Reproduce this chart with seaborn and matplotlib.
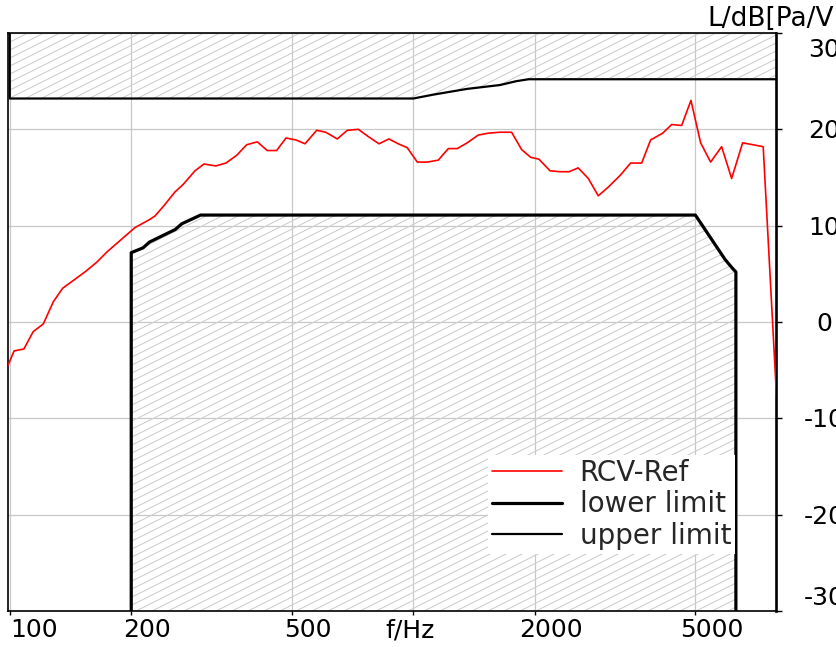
import matplotlib
matplotlib.use("Agg")
import matplotlib.pyplot as plt
import pandas as pd
import seaborn as sns
from matplotlib.collections import LineCollection
from matplotlib.lines import Line2D
from matplotlib.ticker import NullLocator

# RCV-Ref response (Hz, dB)
rcv_freq = [99, 102.5, 108.4, 114.3, 121.1, 128.2, 135.2, 153.6, 164.2, 174.4,
            204.3, 221.4, 229, 240.2, 256.7, 269.2, 287.8, 302.8, 324.2, 343.3,
            365, 386.4, 410.5, 434.6, 458.6, 483.5, 511.9, 539, 576.3, 606.6,
            648, 686, 730.5, 776.5, 822.1, 870.4, 917.6, 965.8, 1023, 1083,
            1153, 1221, 1285, 1360, 1448, 1534, 1639, 1752, 1855, 1953,
            2048, 2181, 2309, 2434, 2562, 2714, 2872, 3041, 3251, 3456,
            3680, 3873, 4149, 4368, 4623, 4875, 5152, 5454, 5807, 6149,
            6547, 7362, 8000]
rcv_db = [-4.5, -3.0, -2.8, -1.0, -0.2, 2.1, 3.5, 5.2, 6.2, 7.3,
          9.8, 10.6, 11.0, 12.0, 13.5, 14.3, 15.7, 16.4, 16.2, 16.5,
          17.3, 18.4, 18.7, 17.8, 17.8, 19.1, 18.9, 18.5, 19.9, 19.7,
          19.0, 19.9, 20.0, 19.2, 18.5, 19.0, 18.5, 18.1, 16.6, 16.6,
          16.8, 18.0, 18.0, 18.6, 19.4, 19.6, 19.7, 19.7, 17.9, 17.1,
          16.9, 15.7, 15.6, 15.6, 16.0, 14.9, 13.1, 14.0, 15.2, 16.5,
          16.5, 18.9, 19.6, 20.5, 20.4, 23.0, 18.6, 16.6, 18.2, 14.9,
          18.6, 18.2, -10.1]

# tolerance mask
low_freq = [200, 200, 214, 222, 257, 267, 297, 5000, 5920, 6200, 6300, 6300]
low_db = [-30, 7.2, 7.7, 8.3, 9.6, 10.2, 11.1, 11.1, 6.5, 5.5, 5.2, -30]
up_freq = [100, 100, 1000, 1120, 1360, 1640, 1800, 1930, 8000]
up_db = [30, 23.2, 23.2, 23.6, 24.2, 24.6, 25.0, 25.2, 25.2]

x_ticks = [100, 200, 500, 1000, 2000, 5000]
x_tick_labels = ["100", "200", "500", "f/Hz", "2000", "5000"]
y_ticks = [-30, -20, -10, 0, 10, 20, 30]
y_tick_labels = ["-30", "-20", "-10", "0", "10", "20", "30"]
legend_labels = ["RCV-Ref", "lower limit", "upper limit"]

rcv = pd.DataFrame({"f": rcv_freq, "L": rcv_db})
low = pd.DataFrame({"f": low_freq, "L": low_db})
up = pd.DataFrame({"f": up_freq, "L": up_db})

sns.set_theme(style="white")
plt.rcParams["font.family"] = ["DejaVu Sans"]

W, H = 836, 647
fig = plt.figure(figsize=(W / 100, H / 100), dpi=100)
ax = fig.add_axes([8 / W, 1 - 611 / H, 768 / W, 578 / H])
ax.set_xscale("log")
ax.set_xlim(99, 7920)
ax.set_ylim(-30, 30)


def hatch(poly, step_px=8, slope=0.5):
    """grey diagonal hatch lines clipped to a filled region"""
    w, h = 768, 578
    k = slope * w / h
    dy = step_px / h
    segs = []
    c = -k
    while c < 1:
        segs.append([(0, c), (1, c + k)])
        c += dy
    lc = LineCollection(segs, colors="#cfcfcf", linewidths=0.8,
                        transform=ax.transAxes, zorder=1)
    lc.set_clip_path(poly.get_paths()[0], ax.transData)
    ax.add_collection(lc)


p_up = ax.fill_between(up["f"], up["L"], 30, facecolor="white", edgecolor="none", zorder=0.5)
p_low = ax.fill_between(low["f"], low["L"], -30, facecolor="white", edgecolor="none", zorder=0.5)
hatch(p_up)
hatch(p_low)

sns.lineplot(data=rcv, x="f", y="L", ax=ax, color="red", lw=1.2, sort=False,
             estimator=None, legend=False, zorder=3)
sns.lineplot(data=low, x="f", y="L", ax=ax, color="black", lw=2.3, sort=False,
             estimator=None, legend=False, zorder=4)
sns.lineplot(data=up, x="f", y="L", ax=ax, color="black", lw=1.6, sort=False,
             estimator=None, legend=False, zorder=4)

ax.set_xlabel("")
ax.set_ylabel("")
ax.set_xticks(x_ticks)
ax.xaxis.set_minor_locator(NullLocator())
ax.set_yticks(y_ticks)
ax.grid(True, color="#c8c8c8", linewidth=0.9)
ax.set_axisbelow(True)
ax.tick_params(axis="x", bottom=True, direction="out", length=3, width=1,
               color="black", labelbottom=False)
ax.yaxis.tick_right()
ax.tick_params(axis="y", right=True, left=False, direction="out", length=4,
               width=1, color="black", labelright=False)
for side, lw in [("left", 1.2), ("bottom", 1.2), ("top", 1.2), ("right", 1.9)]:
    ax.spines[side].set_visible(True)
    ax.spines[side].set_color("black")
    ax.spines[side].set_linewidth(lw)

# tick labels, placed like the original plotter does
xt = ax.get_xaxis_transform()
for i, (v, s) in enumerate(zip(x_ticks, x_tick_labels)):
    if i == 0:
        ha, dx = "left", 0
    elif s == "f/Hz":
        ha, dx = "center", -3
    else:
        ha, dx = "center", 16
    ax.annotate(s, xy=(v, 0), xycoords=xt, xytext=(dx, -26),
                textcoords="offset pixels", ha=ha, va="baseline",
                fontsize=18, color="black", annotation_clip=False)

# right-hand labels run off the page edge, as in the original
yt = ax.get_yaxis_transform()
for v, s in zip(y_ticks, y_tick_labels):
    dy = -9
    if v == max(y_ticks):
        dy = -24
    elif v == min(y_ticks):
        dy = 6
    ax.annotate(s, xy=(1, v), xycoords=yt, xytext=(48, dy),
                textcoords="offset pixels", ha="center", va="baseline",
                fontsize=18, color="black", zorder=6, annotation_clip=False)

fig.text(707 / W, 1 - 26 / H, "L/dB[Pa/V]", ha="left", va="baseline",
         fontsize=19, color="black")

handles = [Line2D([], [], color="red", lw=1.2),
           Line2D([], [], color="black", lw=2.3),
           Line2D([], [], color="black", lw=1.6)]
leg = ax.legend(handles, legend_labels, loc="upper left",
                bbox_to_anchor=(488 / W, 1 - 455 / H), bbox_transform=fig.transFigure,
                frameon=True, facecolor="white", edgecolor="none", framealpha=1,
                fancybox=False, fontsize=20, handlelength=2.5, handletextpad=0.65,
                labelspacing=0.12, borderpad=0.15, borderaxespad=0)
leg.set_zorder(5)

fig.savefig("out.png", dpi=100)
